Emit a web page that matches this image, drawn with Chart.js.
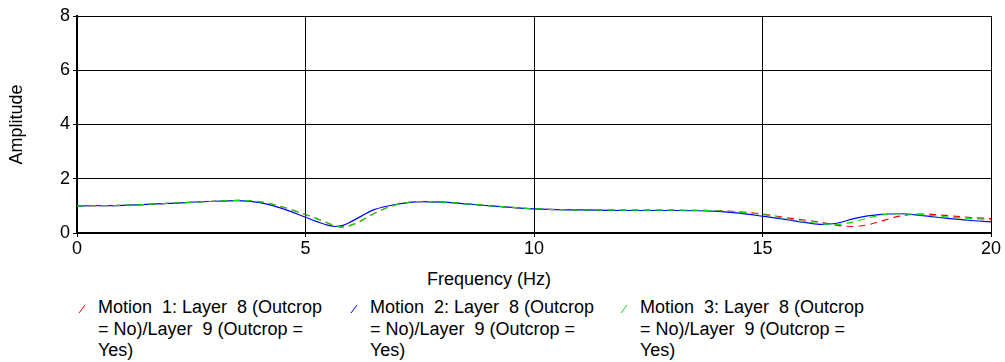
<!DOCTYPE html>
<html>
<head>
<meta charset="utf-8">
<script src="https://cdn.jsdelivr.net/npm/chart.js@4"></script>
<style>
  body { margin: 0; background: #fff; }
  #wrap { position: relative; width: 1005px; height: 362px; font-family: "Liberation Sans", Arial, sans-serif; color: #000; }
  #xtitle { position: absolute; left: 0; width: 978px; top: 269px; text-align: center; font-size: 18px; }
  #legend { position: absolute; left: 0; top: 297px; width: 1005px; }
  .item { position: absolute; top: 0; width: 236px; font-size: 18px; line-height: 21.5px; white-space: pre-wrap; padding-left: 20px; }
  .item svg { position: absolute; left: 0; top: 7px; }
</style>
</head>
<body>
<div id="wrap">
  <canvas id="myChart" width="1005" height="262" style="width:1005px;height:262px"></canvas>
  <div id="xtitle">Frequency (Hz)</div>
  <div id="legend"></div>
</div>
<script>
const freq = [0, 1, 2, 3, 3.5, 4, 4.5, 5, 5.25, 5.5, 5.65, 5.8, 6, 6.25, 6.5, 7, 7.5, 8, 9, 10,
  11, 12, 13, 14, 14.5, 15, 15.5, 16, 16.3, 16.6, 17, 17.3, 17.6, 18, 18.5, 19, 19.5, 20];

// Motion 1 (red, dashed)
const motion1 = [1.00, 1.02, 1.09, 1.17, 1.20, 1.15, 0.96, 0.68, 0.53, 0.36, 0.26, 0.22, 0.29, 0.48, 0.72, 1.05, 1.16, 1.14, 1.01, 0.89,
  0.85, 0.84, 0.84, 0.82, 0.78, 0.70, 0.57, 0.46, 0.39, 0.29, 0.24, 0.30, 0.44, 0.62, 0.70, 0.65, 0.58, 0.53];
// Motion 2 (blue, solid)
const motion2 = [1.00, 1.02, 1.09, 1.17, 1.19, 1.12, 0.90, 0.58, 0.42, 0.28, 0.24, 0.27, 0.42, 0.65, 0.86, 1.06, 1.16, 1.14, 1.01, 0.89,
  0.85, 0.83, 0.83, 0.80, 0.73, 0.62, 0.50, 0.37, 0.32, 0.35, 0.53, 0.63, 0.69, 0.71, 0.64, 0.55, 0.47, 0.41];
// Motion 3 (green, dashed)
const motion3 = [1.00, 1.02, 1.09, 1.17, 1.20, 1.15, 0.96, 0.68, 0.53, 0.36, 0.26, 0.22, 0.29, 0.48, 0.72, 1.05, 1.16, 1.14, 1.01, 0.89,
  0.85, 0.84, 0.84, 0.82, 0.77, 0.68, 0.53, 0.40, 0.34, 0.31, 0.41, 0.55, 0.66, 0.71, 0.67, 0.60, 0.54, 0.49];

const seriesNames = [
  'Motion  1: Layer  8 (Outcrop = No)/Layer  9 (Outcrop = Yes)',
  'Motion  2: Layer  8 (Outcrop = No)/Layer  9 (Outcrop = Yes)',
  'Motion  3: Layer  8 (Outcrop = No)/Layer  9 (Outcrop = Yes)'
];
const seriesColors = ['#ff0000', '#0000ff', '#00e600'];

const xTicks = [0, 5, 10, 15, 20];
const yTicks = [0, 2, 4, 6, 8];

function toPoints(vals) {
  return freq.map((f, i) => ({ x: f, y: vals[i] }));
}

const font = { family: '"Liberation Sans", Arial, sans-serif', size: 18 };

new Chart(document.getElementById('myChart').getContext('2d'), {
  type: 'line',
  data: {
    datasets: [{
      label: seriesNames[0],
      data: toPoints(motion1),
      borderColor: seriesColors[0],
      borderWidth: 1.2,
      borderDash: [7, 5],
      order: 3
    },
    {
      label: seriesNames[1],
      data: toPoints(motion2),
      borderColor: seriesColors[1],
      borderWidth: 1.2,
      order: 2
    },
    {
      label: seriesNames[2],
      data: toPoints(motion3),
      borderColor: seriesColors[2],
      borderWidth: 1.2,
      borderDash: [7, 5],
      order: 1
    }]
  },
  options: {
    responsive: false,
    animation: false,
    layout: { padding: { left: 0, right: 14, top: 16, bottom: 0 } },
    elements: {
      point: { radius: 0 },
      line: { cubicInterpolationMode: 'monotone', fill: false }
    },
    plugins: {
      legend: { display: false },
      tooltip: { enabled: false }
    },
    scales: {
      x: {
        type: 'linear',
        min: 0,
        max: 20,
        afterBuildTicks: (axis) => { axis.ticks = xTicks.map(v => ({ value: v })); },
        afterFit: (axis) => { axis.height = 29; },
        ticks: { color: '#000', font: font, padding: 1, maxRotation: 0 },
        grid: { color: '#000', lineWidth: 1, tickLength: 4, tickColor: '#000' },
        border: { color: '#000', width: 2 }
      },
      y: {
        min: 0,
        max: 8,
        afterBuildTicks: (axis) => { axis.ticks = yTicks.map(v => ({ value: v })); },
        afterFit: (axis) => { axis.width = 77; },
        ticks: { color: '#000', font: font, padding: 3 },
        grid: { color: '#000', lineWidth: 1, tickLength: 4, tickColor: '#000' },
        border: { color: '#000', width: 2 },
        title: { display: true, text: 'Amplitude', color: '#000', font: font, padding: { top: 6, bottom: 8 } }
      }
    }
  }
});

// legend below the chart
const legendLeft = [78, 350, 620];
const legend = document.getElementById('legend');
seriesNames.forEach((name, i) => {
  const d = document.createElement('div');
  d.className = 'item';
  d.style.left = legendLeft[i] + 'px';
  d.innerHTML = '<svg width="8" height="10"><line x1="1" y1="9" x2="7" y2="1" stroke="' + seriesColors[i] + '" stroke-width="1"/></svg>';
  d.appendChild(document.createTextNode(name));
  legend.appendChild(d);
});
</script>
</body>
</html>
